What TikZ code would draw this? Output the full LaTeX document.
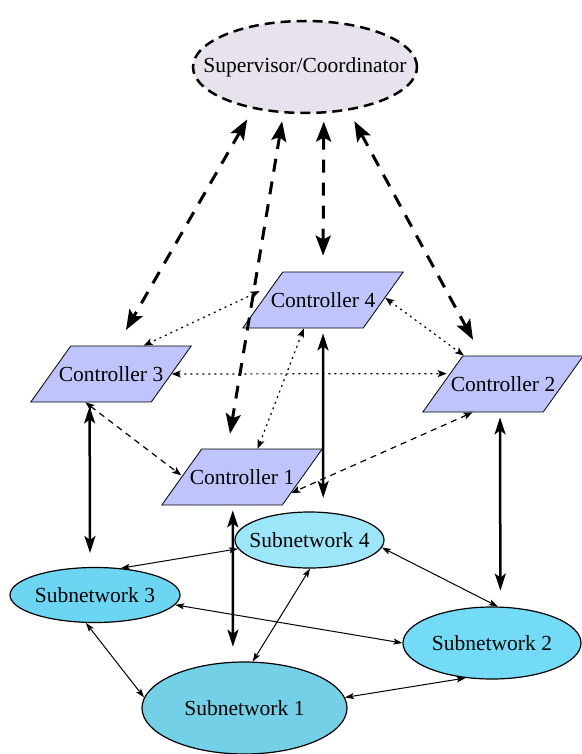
\documentclass[tikz,border=0pt]{standalone}
\usepackage{fontspec}
\setmainfont{Liberation Serif}
\newfontfamily\diagfont{Liberation Serif}
\usetikzlibrary{shapes.geometric,arrows.meta}

\definecolor{supfill}{RGB}{231,226,236}
\definecolor{ctrlfill}{RGB}{191,197,252}
\definecolor{netone}{RGB}{116,208,230}
\definecolor{nettwo}{RGB}{116,219,247}
\definecolor{netthree}{RGB}{108,214,242}
\definecolor{netfour}{RGB}{157,229,249}

\tikzset{
  every node/.style={font=\diagfont\fontsize{21.5}{24}\selectfont},
  supbox/.style={ellipse, draw, line width=2.5pt, dash pattern=on 10pt off 6pt,
    fill=supfill, minimum width=224pt, minimum height=92pt,
    inner xsep=-30pt, inner ysep=0pt},
  ctrlbox/.style={trapezium, trapezium left angle=54.5, trapezium right angle=125.5,
    draw, line width=0.8pt, fill=ctrlfill,
    text height=15pt, text depth=0pt, inner xsep=-12pt, inner ysep=20.5pt},
  netbox/.style={ellipse, draw, line width=1.2pt, inner xsep=-12pt, inner ysep=0pt},
  supline/.style={<->, >={Stealth[length=20pt,width=15pt,inset=4pt]},
    line width=3pt, dash pattern=on 13pt off 10pt},
  ctrldot/.style={<->, >={Stealth[length=9pt,width=7pt,inset=2pt]},
    line width=1.2pt, dash pattern=on 2pt off 4pt},
  ctrldash/.style={<->, >={Stealth[length=9pt,width=7pt,inset=2pt]},
    line width=1.2pt, dash pattern=on 6pt off 5pt},
  netline/.style={<->, >={Stealth[length=17pt,width=11pt,inset=4pt]}, line width=2.5pt},
  linkline/.style={<->, >={Stealth[length=9pt,width=6pt,inset=2pt]}, line width=1pt}
}

\begin{document}
\begin{tikzpicture}[x=1pt,y=-1pt]
\useasboundingbox (0,0) rectangle (581,754);

% supervisor and controllers
\node[supbox](sup) at (305,67) {Supervisor/Coordinator};
\node[ctrlbox](c4) at (323,300) {Controller 4};
\node[ctrlbox](c3) at (111,374) {Controller 3};
\node[ctrlbox](c2) at (503,384) {Controller 2};
\node[ctrlbox](c1) at (242,477) {Controller 1};

% subnetworks
\node[netbox, fill=netfour, minimum width=149pt, minimum height=56pt](s4) at (309.5,540) {Subnetwork 4};
\node[netbox, fill=netthree, minimum width=170pt, minimum height=55pt](s3) at (95,595) {Subnetwork 3};
\node[netbox, fill=nettwo, minimum width=178pt, minimum height=72pt](s2) at (492,643) {Subnetwork 2};
\node[netbox, fill=netone, minimum width=205pt, minimum height=92pt](s1) at (244.5,708) {Subnetwork 1};

% supervisor <-> controllers
\path (sup.-141) edge [supline, shorten <=12pt, shorten >=18pt] (c3.78);
\path (sup.-115) edge [supline, shorten <=8pt, shorten >=15pt] (c1.117);
\path (sup.-68) edge [supline, shorten <=8pt, shorten >=16pt] (c4.90);
\path (sup.-45) edge [supline, shorten <=12pt, shorten >=18pt] (c2.127);

% controller <-> controller
\path (c4.163) edge [ctrldot, shorten <=15pt] (c3.41);
\path (c3.0) edge [ctrldot, shorten >=3pt] (c2.169);
\path (c4.2) edge [ctrldot] (c2.144);
\path (c4.-124) edge [ctrldot] (c1.61);
\path (c3.-132) edge [ctrldash, shorten >=1pt] (c1.179);
\path (c2.-137) edge [ctrldash] (c1.-18);

% controller <-> subnetwork
\path (c3.-127) edge [netline, shorten <=4pt, shorten >=14pt] (s3.100);
\path (c4.-90) edge [netline, shorten <=5pt, shorten >=14pt] (s4.64);
\path (c1.-108) edge [netline, shorten <=5pt, shorten >=15pt] (s1.104);
\path (c2.-96) edge [netline, shorten <=5pt, shorten >=16pt] (s2.77);

% subnetwork <-> subnetwork
\path (s4.-173) edge [linkline] (s3.46);
\path (s4.-6) edge [linkline] (s2.81);
\path (s4.-89) edge [linkline] (s1.80);
\path (s3.-7) edge [linkline] (s2.180);
\path (s3.-108) edge [linkline] (s1.174);
\path (s1.6) edge [linkline] (s2.-127);
\end{tikzpicture}
\end{document}
